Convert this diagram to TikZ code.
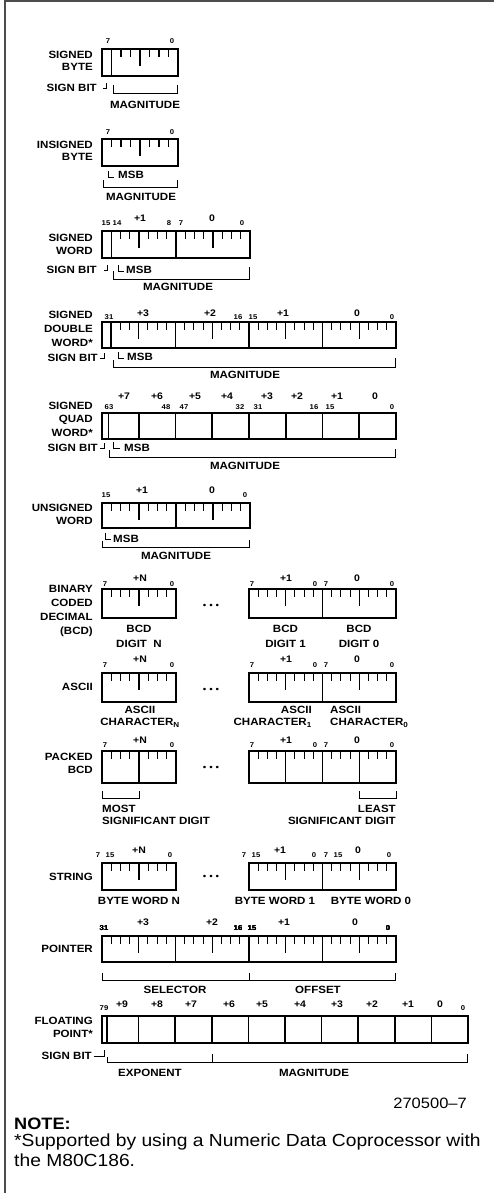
\documentclass[tikz,border=0pt]{standalone}
\usepackage{fontspec}
\setmainfont{Liberation Sans}[FakeStretch=1.1]
\usetikzlibrary{positioning}

\tikzset{
  boxline/.style={line width=1.6pt},
  tickline/.style={line width=1.1pt},
  brk/.style={line width=0.9pt},
  tname/.style={font=\bfseries\fontsize{10.5}{13}\selectfont, align=right, anchor=east, inner sep=0pt},
  fname/.style={font=\bfseries\fontsize{10.5}{12}\selectfont, align=center, inner sep=0pt},
  bitno/.style={font=\bfseries\fontsize{7}{8}\selectfont, inner sep=0pt},
  byteno/.style={font=\bfseries\fontsize{9.5}{10}\selectfont, inner sep=0pt},
  dotsn/.style={font=\fontsize{9}{10}\selectfont, inner sep=0pt},
}

% byte with bit ticks: left x, top y, width, height
\newcommand{\tickbyte}[4]{%
  \draw[boxline] (#1,#2) rectangle ++(#3,#4);
  \foreach \k in {1,2,3,5,6,7}
    \draw[tickline] ({#1+\k*#3/8},#2) -- ++(0,8);
  \draw[tickline] ({#1+#3/2},#2) -- ++(0,17);
}
% packed byte, two digits
\newcommand{\nibbyte}[4]{%
  \draw[boxline] (#1,#2) rectangle ++(#3,#4);
  \foreach \k in {1,2,3,5,6,7}
    \draw[tickline] ({#1+\k*#3/8},#2) -- ++(0,8);
  \draw[tickline] ({#1+#3/2},#2) -- ++(0,#4);
}

\begin{document}
\begin{tikzpicture}[x=1pt,y=-1pt]
\useasboundingbox (0,0) rectangle (494,1193);
\draw[line width=2pt, black!70] (4.5,1193) -- (4.5,1) -- (494,1);

% signed byte
\tickbyte{102}{49}{76}{27}
\draw[boxline] (111.5,49) -- ++(0,27);
\node[bitno] (sb-hi) at (108,41) {7};
\node[bitno] (sb-lo) at (172,41) {0};
\node[tname, font=\bfseries\fontsize{10.5}{12}\selectfont] (sb) at (93,61) {SIGNED\\BYTE};
\node[tname] (sb-s) at (97,88) {SIGN BIT};
\draw[brk] (103,88) -- (106,88) -- (106,83);
\draw[brk] (113,85) -- (113,93) -- (177,93) -- (177,85);
\node[fname] (sb-m) at (145,105) {MAGNITUDE};

% unsigned byte
\tickbyte{102}{139}{76}{27}
\node[bitno] (ub-hi) at (108,132) {7};
\node[bitno] (ub-lo) at (172,132) {0};
\node[tname, font=\bfseries\fontsize{10.5}{12}\selectfont] (ub) at (93,151) {INSIGNED\\BYTE};
\draw[brk] (108,171) -- (108,177) -- (114,177);
\node[fname, anchor=west] (ub-msb) at (118,175) {MSB};
\draw[brk] (103,180) -- (103,187) -- (177,187) -- (177,180);
\node[fname] (ub-m) at (141,197) {MAGNITUDE};

% signed word
\tickbyte{102}{231}{74}{27}
\tickbyte{176}{231}{74}{27}
\draw[boxline] (111.3,231) -- ++(0,27);
\foreach \x/\t [count=\i] in {106/15,117/14,169/8,181/7,242/0}
  \node[bitno] (sw-b\i) at (\x,223) {\t};
\foreach \x/\t [count=\i] in {140/+1,212/0}
  \node[byteno] (sw-y\i) at (\x,218) {\t};
\node[tname] (sw) at (93,244) {SIGNED\\WORD};
\node[tname] (sw-s) at (97,270) {SIGN BIT};
\draw[brk] (104,270) -- (107,270) -- (107,265);
\draw[brk] (118,265) -- (118,271) -- (124,271);
\node[fname, anchor=west] (sw-msb) at (126,270) {MSB};
\draw[brk] (113,271) -- (113,279) -- (249,279) -- (249,267);
\node[fname] (sw-m) at (178,287) {MAGNITUDE};

% signed double word
\foreach \x in {102,175.5,249,322.5} \tickbyte{\x}{322}{73.5}{26}
\draw[boxline] (111.2,322) -- ++(0,26);
\foreach \x/\t [count=\i] in {109/31,238/16,253/15,392/0}
  \node[bitno] (sd-b\i) at (\x,317) {\t};
\foreach \x/\t [count=\i] in {143/+3,210/+2,283/+1,357/0}
  \node[byteno] (sd-y\i) at (\x,313) {\t};
\node[tname, font=\bfseries\fontsize{10.5}{14}\selectfont] (sd) at (93,329) {SIGNED\\DOUBLE\\WORD*};
\node[tname] (sd-s) at (98,358) {SIGN BIT};
\draw[brk] (100,358) -- (104,358) -- (104,353);
\draw[brk] (118,352) -- (118,358) -- (124,358);
\node[fname, anchor=west] (sd-msb) at (127,357) {MSB};
\draw[brk] (113,360) -- (113,367) -- (395,367) -- (395,358);
\node[fname] (sd-m) at (245,375) {MAGNITUDE};

% signed quad word
\draw[boxline] (102,413) rectangle (396,439);
\foreach \k in {1,...,7} \draw[boxline] ({102+\k*36.75},413) -- ++(0,26);
\draw[boxline] (108.5,413) -- ++(0,26);
\foreach \x/\t [count=\i] in {124/+7,157/+6,195/+5,227/+4,267/+3,297/+2,337/+1,375/0}
  \node[byteno] (sq-y\i) at (\x,396) {\t};
\foreach \x/\t [count=\i] in {109/63,166/48,184/47,240/32,258/31,314/16,330/15,392/0}
  \node[bitno] (sq-b\i) at (\x,407) {\t};
\node[tname, font=\bfseries\fontsize{10.5}{13.5}\selectfont] (sq) at (93,419) {SIGNED\\QUAD\\WORD*};
\node[tname] (sq-s) at (98,448) {SIGN BIT};
\draw[brk] (100,448) -- (104,448) -- (104,443);
\draw[brk] (113,442) -- (113,448) -- (120,448);
\node[fname, anchor=west] (sq-msb) at (124,448) {MSB};
\draw[brk] (109,450) -- (109,457) -- (395,457) -- (395,449);
\node[fname] (sq-m) at (245,466) {MAGNITUDE};

% unsigned word
\tickbyte{102}{503}{74}{25}
\tickbyte{176}{503}{74}{25}
\foreach \x/\t [count=\i] in {106/15,245/0}
  \node[bitno] (uw-b\i) at (\x,495) {\t};
\foreach \x/\t [count=\i] in {142/+1,212/0}
  \node[byteno] (uw-y\i) at (\x,490) {\t};
\node[tname] (uw) at (93,514) {UNSIGNED\\WORD};
\draw[brk] (105,533) -- (105,539) -- (111,539);
\node[fname, anchor=west] (uw-msb) at (113,539) {MSB};
\draw[brk] (102,541) -- (102,547) -- (249,547) -- (249,540);
\node[fname] (uw-m) at (176,556) {MAGNITUDE};

% binary coded decimal
\tickbyte{102}{589}{74}{29}
\tickbyte{249}{589}{73.5}{29}
\tickbyte{322.5}{589}{73.5}{29}
\foreach \x/\t [count=\i] in {105/7,172/0,252/7,315/0,326/7,392/0}
  \node[bitno] (bcd-b\i) at (\x,584) {\t};
\foreach \x/\t [count=\i] in {140/+N,286/+1,357/0}
  \node[byteno] (bcd-y\i) at (\x,578) {\t};
\node[dotsn] (bcd-dots) at (211,606) {\textbullet\hspace{3pt}\textbullet\hspace{3pt}\textbullet};
\node[tname, font=\bfseries\fontsize{10.5}{14.3}\selectfont] (bcd) at (93,611) {BINARY\\CODED\\DECIMAL\\(BCD)};
\node[fname, font=\bfseries\fontsize{10.5}{15}\selectfont] (bcd-n) at (139,636) {BCD\\DIGIT\ \ N};
\node[fname, font=\bfseries\fontsize{10.5}{15}\selectfont] (bcd-1) at (285.5,636) {BCD\\DIGIT 1};
\node[fname, font=\bfseries\fontsize{10.5}{15}\selectfont] (bcd-0) at (359,636) {BCD\\DIGIT 0};

% ascii
\tickbyte{102}{673}{74}{29}
\tickbyte{249}{673}{73.5}{29}
\tickbyte{322.5}{673}{73.5}{29}
\foreach \x/\t [count=\i] in {105/7,172/0,252/7,315/0,326/7,392/0}
  \node[bitno] (asc-b\i) at (\x,665) {\t};
\foreach \x/\t [count=\i] in {140/+N,286/+1,357/0}
  \node[byteno] (asc-y\i) at (\x,659) {\t};
\node[dotsn] (asc-dots) at (211,690) {\textbullet\hspace{3pt}\textbullet\hspace{3pt}\textbullet};
\node[tname] (asc) at (93,687) {ASCII};
\node[fname] (asc-n) at (140,717) {ASCII\\CHARACTER\textsubscript{N}};
\node[fname, align=right, anchor=east] (asc-1) at (312,717) {ASCII\\CHARACTER\textsubscript{1}};
\node[fname, align=left, anchor=west] (asc-0) at (330,717) {ASCII\\CHARACTER\textsubscript{0}};

% packed bcd
\nibbyte{102}{751}{74}{32}
\nibbyte{249}{751}{73.5}{32}
\nibbyte{322.5}{751}{73.5}{32}
\foreach \x/\t [count=\i] in {105/7,172/0,252/7,315/0,326/7,392/0}
  \node[bitno] (pk-b\i) at (\x,745) {\t};
\foreach \x/\t [count=\i] in {140/+N,286/+1,357/0}
  \node[byteno] (pk-y\i) at (\x,740) {\t};
\node[dotsn] (pk-dots) at (211,768) {\textbullet\hspace{3pt}\textbullet\hspace{3pt}\textbullet};
\node[tname] (pk) at (93,763) {PACKED\\BCD};
\draw[brk] (102,791) -- (102,798) -- (139,798) -- (139,791);
\draw[brk] (359,791) -- (359,798) -- (396,798) -- (396,791);
\node[fname, align=left, anchor=west] (pk-most) at (102,815) {MOST\\SIGNIFICANT DIGIT};
\node[fname, align=right, anchor=east] (pk-least) at (396,815) {LEAST\\SIGNIFICANT DIGIT};

% string
\tickbyte{102}{863}{74}{27}
\tickbyte{249}{863}{73.5}{27}
\tickbyte{322.5}{863}{73.5}{27}
\foreach \x/\t [count=\i] in {98/7,110/15,170/0,244/7,256/15,314/0,326/7,338/15,389/0}
  \node[bitno] (st-b\i) at (\x,855) {\t};
\foreach \x/\t [count=\i] in {139/+N,280/+1,358/0}
  \node[byteno] (st-y\i) at (\x,850) {\t};
\node[dotsn] (st-dots) at (211,877) {\textbullet\hspace{3pt}\textbullet\hspace{3pt}\textbullet};
\node[tname] (st) at (93,877) {STRING};
\node[fname] (st-n) at (139,901) {BYTE WORD N};
\node[fname] (st-1) at (275,901) {BYTE WORD 1};
\node[fname] (st-0) at (371,901) {BYTE WORD 0};

% pointer
\foreach \x in {102,175.5,249,322.5} \tickbyte{\x}{936}{73.5}{26}
\foreach \x/\t [count=\i] in {104/31,238/16,252/15,388/0}
  \node[bitno] (pt-b\i) at (\x,928) {\t};
\foreach \x/\t [count=\i] in {143/+3,212/+2,284/+1,355/0}
  \node[byteno] (pt-y\i) at (\x,922) {\t};
\node[tname] (pt) at (93,949) {POINTER};
\draw[brk] (102,973) -- (102,980) -- (395,980) -- (395,973);
\draw[brk] (249,973) -- (249,980);
\node[fname] (pt-sel) at (175,990) {SELECTOR};
\node[fname] (pt-off) at (318,990) {OFFSET};

% floating point
\draw[boxline] (102,1016) rectangle (468,1043);
\foreach \k in {1,...,9} \draw[boxline] ({102+\k*36.6},1016) -- ++(0,27);
\draw[boxline] (107,1016) -- ++(0,27);
\foreach \x/\t [count=\i] in {122/+9,157/+8,191/+7,229/+6,262/+5,300/+4,337/+3,372/+2,408/+1,440/0}
  \node[byteno] (fp-y\i) at (\x,1004) {\t};
\foreach \x/\t [count=\i] in {104/79,463/0}
  \node[bitno] (fp-b\i) at (\x,1008) {\t};
\node[tname] (fp) at (93,1027) {FLOATING\\POINT*};
\node[tname] (fp-s) at (92,1056) {SIGN BIT};
\draw[brk] (94,1056) -- (104,1056) -- (104,1050);
\draw[brk] (107,1057) -- (107,1062) -- (467,1062) -- (467,1054);
\draw[brk] (212,1054) -- (212,1062);
\node[fname] (fp-exp) at (150,1073) {EXPONENT};
\node[fname] (fp-m) at (314,1073) {MAGNITUDE};

% footer
\node[anchor=east, inner sep=0pt, font=\fontsize{15}{17}\selectfont] (fig) at (467,1103) {270500--7};
\node[anchor=west, inner sep=0pt, font=\bfseries\fontsize{16.5}{18}\selectfont] (note) at (14,1124) {NOTE:};
\node[below=4pt of note.south west, anchor=north west, inner sep=0pt, align=left,
  font=\fontsize{17.5}{19.5}\selectfont] (note-txt) {*Supported by using a Numeric Data Coprocessor with\\the M80C186.};
\end{tikzpicture}
\end{document}
